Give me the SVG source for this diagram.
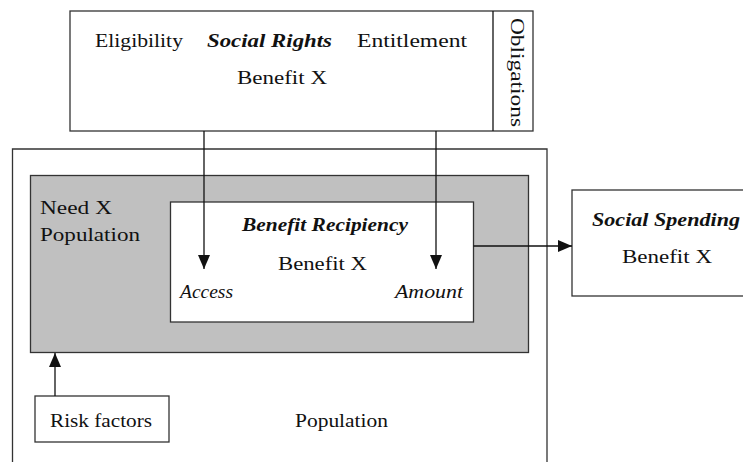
<svg xmlns="http://www.w3.org/2000/svg" width="743" height="462" viewBox="0 0 743 462" font-family="Liberation Serif, DejaVu Serif, serif" font-size="19">
<style>
.box{fill:#fff;stroke:#333;stroke-width:1.3}
.gray{fill:#c0c0c0;stroke:#333;stroke-width:1.3}
text{fill:#111}
.bi{font-weight:bold;font-style:italic}
.i{font-style:italic}
.ln{stroke:#111;stroke-width:1.3;fill:none}
</style>
<defs>
<marker id="ah" viewBox="0 0 14 12" refX="14" refY="6" markerWidth="14" markerHeight="12" markerUnits="userSpaceOnUse" orient="auto">
<path d="M0,0 L14,6 L0,12 Z" fill="#111"/>
</marker>
</defs>
<g id="population">
<path class="box" d="M12.5,470 L12.5,149 L547,149 L547,470"/>
<text x="295" y="427" textLength="93" lengthAdjust="spacingAndGlyphs">Population</text>
</g>
<g id="need">
<rect class="gray" x="30.5" y="175.5" width="498" height="177"/>
<text x="40" y="214" textLength="72" lengthAdjust="spacingAndGlyphs">Need X</text>
<text x="40" y="241" textLength="100" lengthAdjust="spacingAndGlyphs">Population</text>
</g>
<g id="recipiency">
<rect class="box" x="170.5" y="202" width="303" height="120"/>
<text class="bi" x="242" y="231" textLength="166" lengthAdjust="spacingAndGlyphs">Benefit Recipiency</text>
<text x="278" y="270" textLength="89" lengthAdjust="spacingAndGlyphs">Benefit X</text>
<text class="i" x="180" y="298" textLength="53" lengthAdjust="spacingAndGlyphs">Access</text>
<text class="i" x="395" y="298" textLength="68" lengthAdjust="spacingAndGlyphs">Amount</text>
</g>
<g id="rights">
<rect class="box" x="70" y="11" width="463" height="120"/>
<line class="ln" x1="493" y1="11" x2="493" y2="131" stroke="#333"/>
<text x="95" y="47" textLength="88" lengthAdjust="spacingAndGlyphs">Eligibility</text>
<text class="bi" x="207" y="47" textLength="125" lengthAdjust="spacingAndGlyphs">Social Rights</text>
<text x="357" y="47" textLength="110" lengthAdjust="spacingAndGlyphs">Entitlement</text>
<text x="237" y="84" textLength="90" lengthAdjust="spacingAndGlyphs">Benefit X</text>
<text transform="translate(511,18) rotate(90)" x="0" y="0" textLength="109" lengthAdjust="spacingAndGlyphs">Obligations</text>
</g>
<g id="spending">
<rect class="box" x="572" y="190" width="180" height="106"/>
<text class="bi" x="592" y="226" textLength="148" lengthAdjust="spacingAndGlyphs">Social Spending</text>
<text x="622" y="263" textLength="90" lengthAdjust="spacingAndGlyphs">Benefit X</text>
</g>
<g id="risk">
<rect class="box" x="35" y="396" width="134" height="46"/>
<text x="50" y="427" textLength="102" lengthAdjust="spacingAndGlyphs">Risk factors</text>
</g>
<g id="connectors">
<line class="ln" x1="204" y1="131" x2="204" y2="269" marker-end="url(#ah)"/>
<line class="ln" x1="436" y1="131" x2="436" y2="269" marker-end="url(#ah)"/>
<line class="ln" x1="473.5" y1="246" x2="572" y2="246" marker-end="url(#ah)"/>
<line class="ln" x1="55" y1="396" x2="55" y2="353" marker-end="url(#ah)"/>
</g>
</svg>
